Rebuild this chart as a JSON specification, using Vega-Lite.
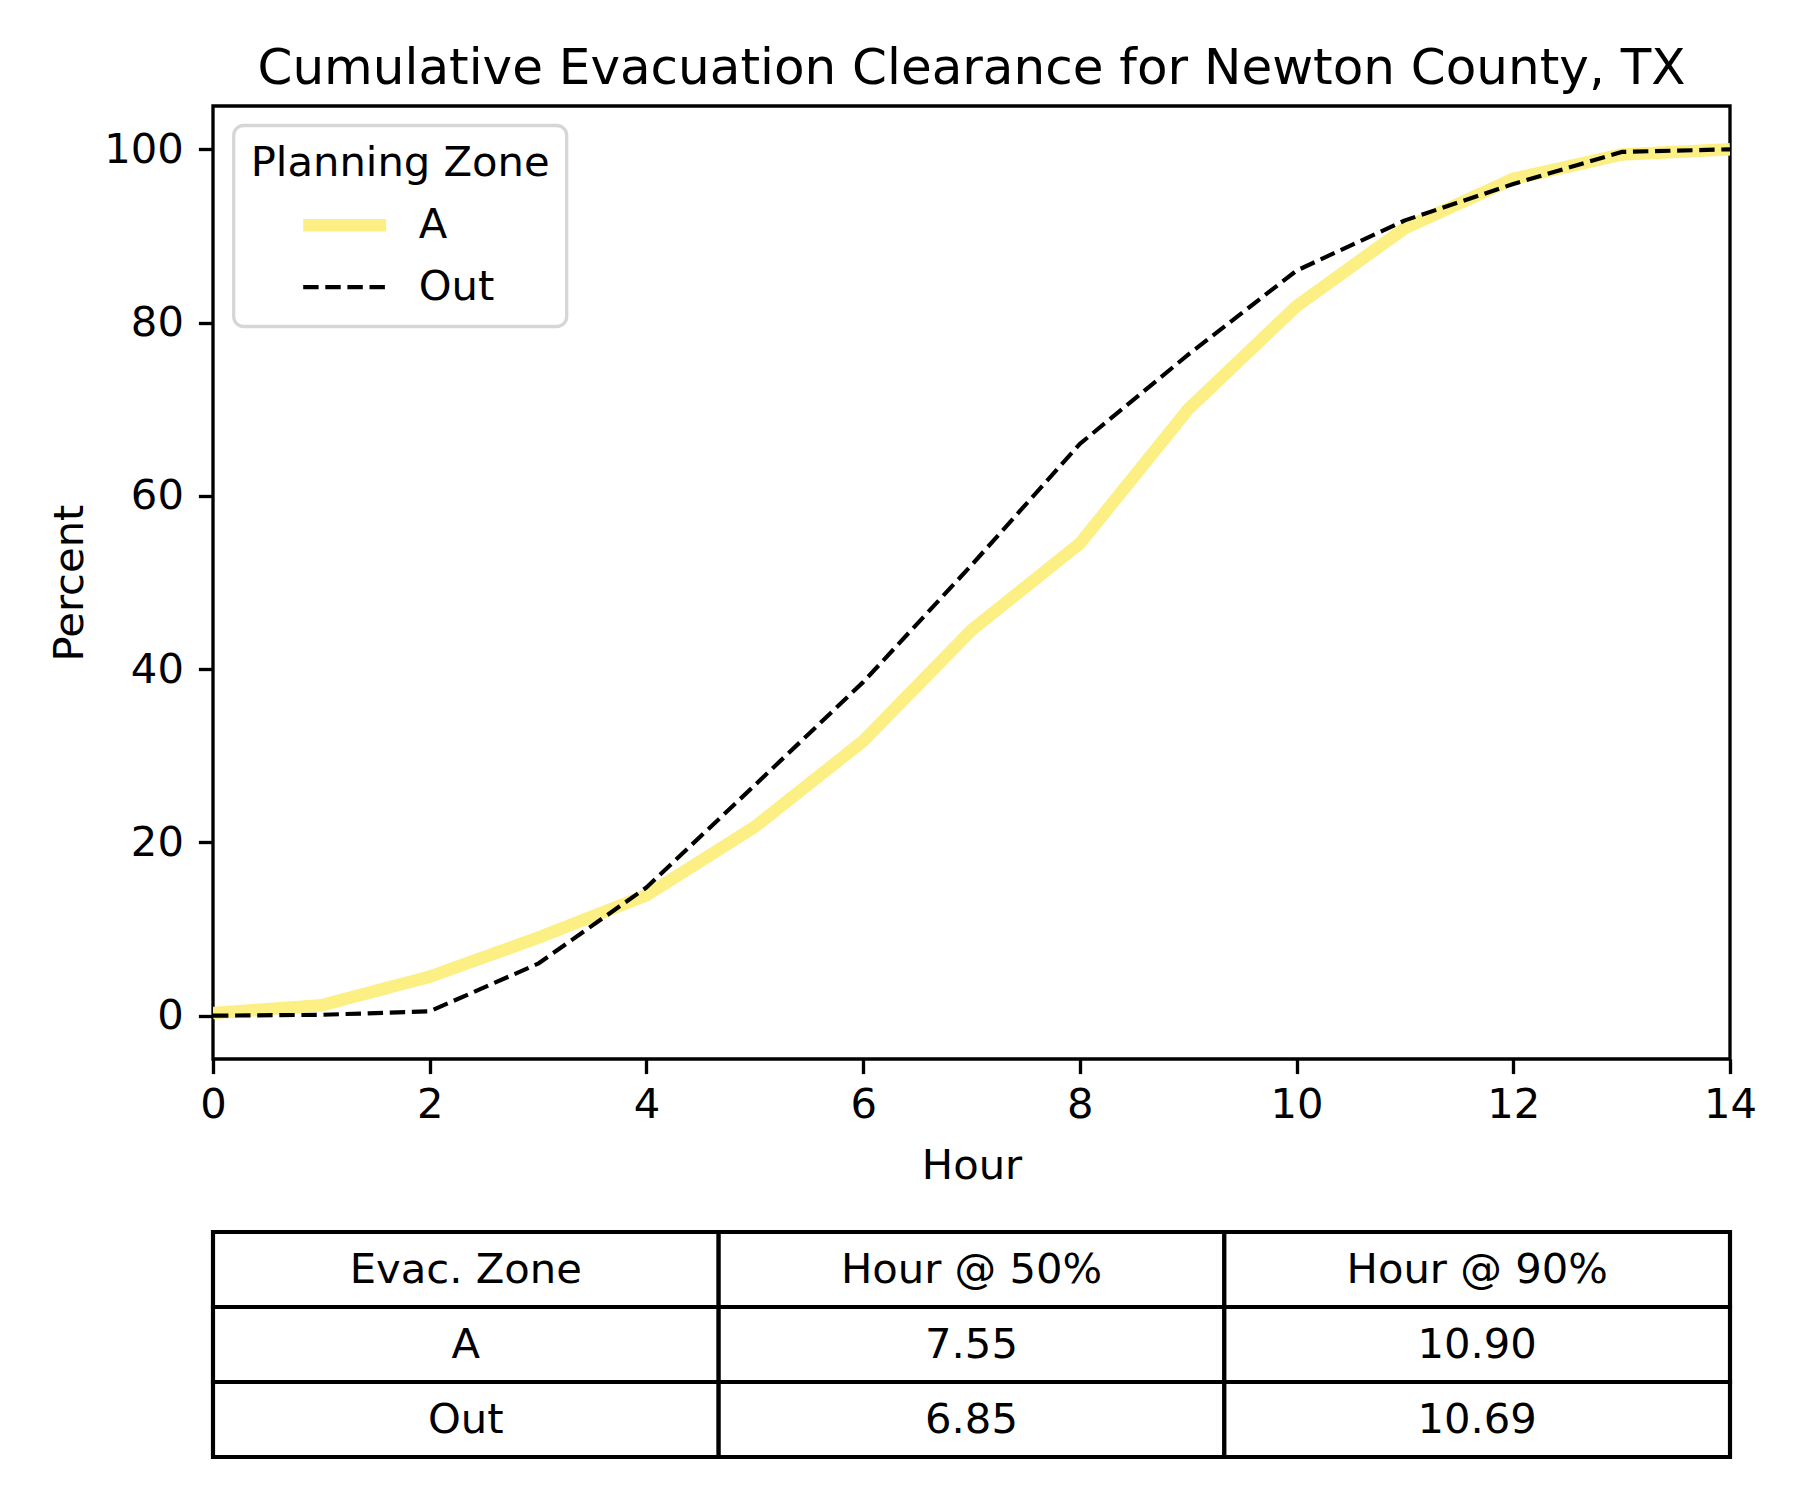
{
  "$schema": "https://vega.github.io/schema/vega-lite/v6.json",
  "background": "white",
  "autosize": {"type": "pad"},
  "padding": {"left": 48, "top": 42, "right": 40, "bottom": 10},
  "config": {
    "font": "DejaVu Sans",
    "view": {"stroke": "black", "strokeWidth": 3.33},
    "axis": {
      "domain": false,
      "grid": false,
      "ticks": true,
      "tickColor": "black",
      "tickWidth": 3.33,
      "tickSize": 14.6,
      "labelFont": "DejaVu Sans",
      "labelFontSize": 41.7,
      "labelColor": "black",
      "labelPadding": 15,
      "labelFlush": false,
      "titleFont": "DejaVu Sans",
      "titleFontSize": 41.7,
      "titleFontWeight": "normal",
      "titleColor": "black"
    },
    "legend": {
      "orient": "none",
      "legendX": 20.7,
      "legendY": 19.5,
      "padding": 17,
      "cornerRadius": 10,
      "strokeColor": "#d6d6d6",
      "strokeWidth": 3.3,
      "fillColor": "rgba(255,255,255,0.8)",
      "titleFont": "DejaVu Sans",
      "titleFontSize": 41.7,
      "titleFontWeight": "normal",
      "titleColor": "black",
      "titlePadding": 14,
      "titleLimit": 2000,
      "labelFont": "DejaVu Sans",
      "labelFontSize": 41.7,
      "labelColor": "black",
      "labelLimit": 2000,
      "symbolType": "M-2,0H2",
      "symbolSize": 1722,
      "symbolOffset": 67,
      "labelOffset": 47,
      "rowPadding": 14
    }
  },
  "datasets": {
    "series": [
      {"hour": 0, "percent": 0.3, "zone": "A"},
      {"hour": 1, "percent": 1.2, "zone": "A"},
      {"hour": 2, "percent": 4.5, "zone": "A"},
      {"hour": 3, "percent": 9.0, "zone": "A"},
      {"hour": 4, "percent": 13.9, "zone": "A"},
      {"hour": 5, "percent": 21.8, "zone": "A"},
      {"hour": 6, "percent": 31.7, "zone": "A"},
      {"hour": 7, "percent": 44.5, "zone": "A"},
      {"hour": 8, "percent": 54.5, "zone": "A"},
      {"hour": 9, "percent": 70.0, "zone": "A"},
      {"hour": 10, "percent": 81.9, "zone": "A"},
      {"hour": 11, "percent": 90.9, "zone": "A"},
      {"hour": 12, "percent": 96.6, "zone": "A"},
      {"hour": 13, "percent": 99.4, "zone": "A"},
      {"hour": 14, "percent": 100.0, "zone": "A"},
      {"hour": 0, "percent": 0.0, "zone": "Out"},
      {"hour": 1, "percent": 0.1, "zone": "Out"},
      {"hour": 2, "percent": 0.5, "zone": "Out"},
      {"hour": 3, "percent": 6.0, "zone": "Out"},
      {"hour": 4, "percent": 14.8, "zone": "Out"},
      {"hour": 5, "percent": 26.6, "zone": "Out"},
      {"hour": 6, "percent": 38.5, "zone": "Out"},
      {"hour": 7, "percent": 52.0, "zone": "Out"},
      {"hour": 8, "percent": 66.0, "zone": "Out"},
      {"hour": 9, "percent": 76.3, "zone": "Out"},
      {"hour": 10, "percent": 86.0, "zone": "Out"},
      {"hour": 11, "percent": 91.8, "zone": "Out"},
      {"hour": 12, "percent": 96.0, "zone": "Out"},
      {"hour": 13, "percent": 99.7, "zone": "Out"},
      {"hour": 14, "percent": 100.0, "zone": "Out"}
    ],
    "table": [
      {"row": "h", "col": "c1", "label": "Evac. Zone"},
      {"row": "h", "col": "c2", "label": "Hour @ 50%"},
      {"row": "h", "col": "c3", "label": "Hour @ 90%"},
      {"row": "A", "col": "c1", "label": "A"},
      {"row": "A", "col": "c2", "label": "7.55"},
      {"row": "A", "col": "c3", "label": "10.90"},
      {"row": "Out", "col": "c1", "label": "Out"},
      {"row": "Out", "col": "c2", "label": "6.85"},
      {"row": "Out", "col": "c3", "label": "10.69"}
    ]
  },
  "bounds": "flush",
  "spacing": 173,
  "vconcat": [
    {
      "width": 1517,
      "height": 953,
      "title": {
        "text": "Cumulative Evacuation Clearance for Newton County, TX",
        "fontSize": 50,
        "fontWeight": "normal",
        "font": "DejaVu Sans",
        "color": "black",
        "frame": "group",
        "anchor": "middle",
        "baseline": "bottom",
        "offset": -38
      },
      "data": {"name": "series"},
      "mark": {"type": "line", "strokeJoin": "round", "clip": true},
      "encoding": {
        "x": {
          "field": "hour",
          "type": "quantitative",
          "scale": {"domain": [0, 14], "nice": false, "zero": false},
          "axis": {"title": "Hour", "values": [0, 2, 4, 6, 8, 10, 12, 14], "labelPadding": 10.5, "titlePadding": 20}
        },
        "y": {
          "field": "percent",
          "type": "quantitative",
          "scale": {"domain": [-5, 105], "nice": false, "zero": false},
          "axis": {"title": "Percent", "values": [0, 20, 40, 60, 80, 100], "titlePadding": 12}
        },
        "color": {
          "field": "zone",
          "type": "nominal",
          "scale": {"domain": ["A", "Out"], "range": ["#FCEF84", "black"]},
          "legend": {"title": "Planning Zone"}
        },
        "strokeDash": {
          "field": "zone",
          "type": "nominal",
          "scale": {"domain": ["A", "Out"], "range": [[1, 0], [15.4, 6.7]]},
          "legend": {"title": "Planning Zone"}
        },
        "strokeWidth": {
          "field": "zone",
          "type": "ordinal",
          "scale": {"domain": ["A", "Out"], "range": [12.5, 4.17]},
          "legend": {"title": "Planning Zone"}
        }
      }
    },
    {
      "width": 1517,
      "height": 225,
      "data": {"name": "table"},
      "encoding": {
        "x": {"field": "col", "type": "ordinal", "sort": ["c1", "c2", "c3"], "scale": {"paddingInner": 0, "paddingOuter": 0}, "axis": null},
        "y": {"field": "row", "type": "ordinal", "sort": ["h", "A", "Out"], "scale": {"paddingInner": 0, "paddingOuter": 0}, "axis": null}
      },
      "layer": [
        {"mark": {"type": "rect", "fill": "white", "stroke": "black", "strokeWidth": 4.17}},
        {
          "mark": {"type": "text", "fontSize": 41.7, "font": "DejaVu Sans", "color": "black", "baseline": "middle"},
          "encoding": {"text": {"field": "label", "type": "nominal"}}
        }
      ]
    }
  ]
}
